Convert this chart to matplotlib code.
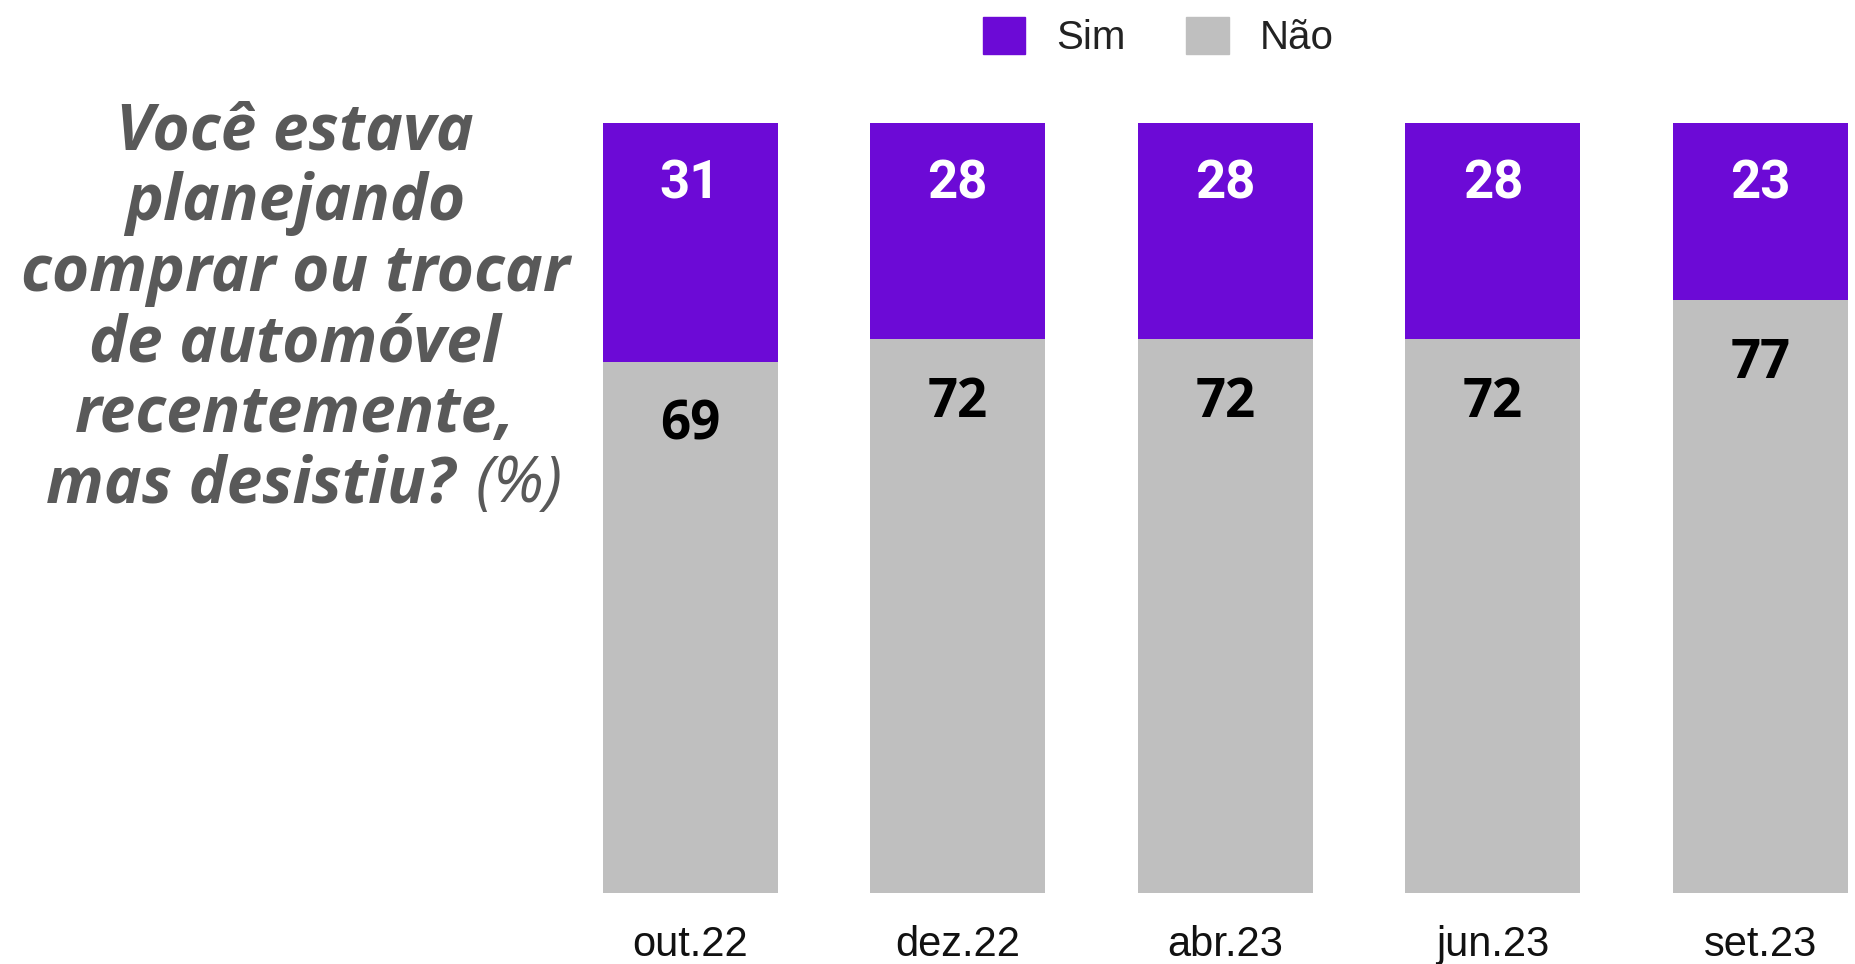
import matplotlib.pyplot as plt
from matplotlib.patches import Patch

# dados
meses = ['out.22', 'dez.22', 'abr.23', 'jun.23', 'set.23']
sim = [31, 28, 28, 28, 23]
nao = [69, 72, 72, 72, 77]

titulo = ['Você estava', 'planejando', 'comprar ou trocar',
          'de automóvel', 'recentemente,']
titulo_fim = 'mas desistiu?'

roxo = '#6c0ad6'
cinza = '#bfbfbf'
cinza_txt = '#595959'

fig = plt.figure(figsize=(18.55, 9.64), dpi=100)
ax = fig.add_axes([0.3143, 0.0737, 0.6852, 0.7988])

x = list(range(len(meses)))
w = 0.654
ax.bar(x, nao, width=w, color=cinza)
ax.bar(x, sim, bottom=nao, width=w, color=roxo)

for i in x:
    ax.annotate(str(sim[i]), (i, nao[i] + sim[i]), xytext=(0, -61),
                textcoords='offset pixels', ha='center', va='center',
                color='white', fontsize=38, fontweight='bold', family='Roboto')
    ax.annotate(str(nao[i]), (i, nao[i]), xytext=(0, -64),
                textcoords='offset pixels', ha='center', va='center',
                color='black', fontsize=38, fontweight='bold', family='Open Sans')

ax.set_xlim(-0.4, 4.35)
ax.set_ylim(0, 100)
ax.set_xticks(x, meses)
ax.tick_params(axis='x', length=0, pad=23, labelsize=30, labelcolor='#111111')
for lb in ax.get_xticklabels():
    lb.set_family('Liberation Sans')
ax.set_yticks([])
for s in ax.spines.values():
    s.set_visible(False)

# legenda
hs = [Patch(color=roxo, label='Sim'), Patch(color=cinza, label='Não')]
fig.legend(handles=hs, loc='center', bbox_to_anchor=(0.6245, 0.9616), ncol=2,
           frameon=False, prop={'family': 'Liberation Sans', 'size': 29},
           handlelength=1.05, handleheight=1.05, handletextpad=0.78,
           columnspacing=1.5, borderpad=0, labelcolor='#222222')

# titulo a esquerda
fs = 46
y0 = 150
dy = 70.5
for k, linha in enumerate(titulo):
    fig.text(295 / 1855, 1 - (y0 + k * dy) / 964, linha, ha='center', va='baseline',
             fontsize=fs, fontweight='bold', style='italic', family='Open Sans',
             color=cinza_txt)
yl = 1 - (y0 + 5 * dy) / 964
fig.text(455 / 1855, yl, titulo_fim, ha='right', va='baseline', fontsize=fs,
         fontweight='bold', style='italic', family='Open Sans', color=cinza_txt)
fig.text(476 / 1855, yl, '(%)', ha='left', va='baseline', fontsize=fs,
         fontweight='normal', style='italic', family='Open Sans', color=cinza_txt)

fig.savefig('out.png', dpi=100)
